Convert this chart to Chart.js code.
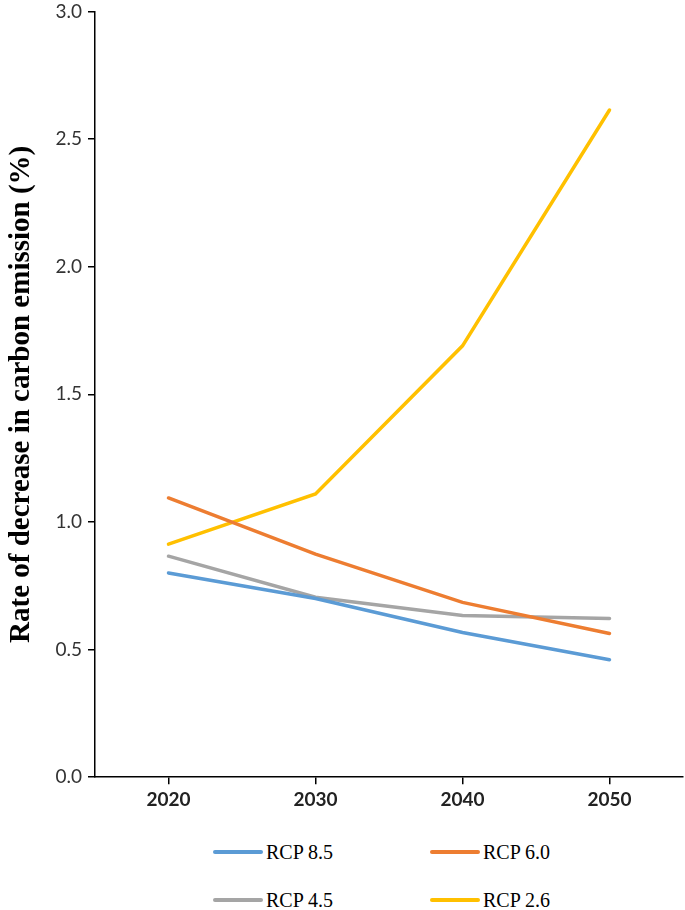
<!DOCTYPE html>
<html>
<head>
<meta charset="utf-8">
<script src="https://cdn.jsdelivr.net/npm/chart.js@4.4.0/dist/chart.umd.min.js"></script>
<style>
    body { margin: 0; background: #fff; }
    #wrap { position: relative; width: 685px; height: 910px; overflow: hidden; }
    #grafico { position: absolute; left: 0; top: -4px; }
    .leg_item { position: absolute; height: 24px; font-family: "Liberation Serif", "Times New Roman", serif; font-size: 20px; color: #000; white-space: nowrap; }
    .leg_linha { position: absolute; left: 0; top: 10px; width: 50px; height: 4px; border-radius: 2px; }
    .leg_texto { position: absolute; left: 53px; top: 0; line-height: 24px; }
</style>
</head>
<body>
<div id="wrap">
    <canvas id="grafico" width="685" height="819"></canvas>
    <div id="legenda"></div>
</div>
<script>

/// DADOS

const anos = ['2020', '2030', '2040', '2050'];

const rcp85 = [0.80, 0.70, 0.567, 0.46];
const rcp60 = [1.094, 0.874, 0.685, 0.563];
const rcp45 = [0.866, 0.705, 0.634, 0.622];
const rcp26 = [0.913, 1.11, 1.69, 2.614];

const series_nomes = ['RCP 8.5', 'RCP 6.0', 'RCP 4.5', 'RCP 2.6'];
const series_cores = ['#5B9BD5', '#ED7D31', '#A5A5A5', '#FFC000'];

const y_ticks = [0, 0.5, 1.0, 1.5, 2.0, 2.5, 3.0];


/// GRÁFICO

const canvas = document.getElementById('grafico');

const series_dados = [rcp85, rcp60, rcp45, rcp26];

const datasets = series_dados.map(function (d, i) {
    return {
        label: series_nomes[i],
        data: d,
        borderColor: series_cores[i],
        backgroundColor: series_cores[i],
        borderWidth: 3.5,
        pointRadius: 0,
        tension: 0,
        borderCapStyle: 'round'
    };
});

const chart = new Chart(canvas, {
    type: 'line',
    data: {
        labels: anos,
        datasets: datasets
    },
    options: {
        responsive: false,
        animation: false,
        layout: {
            padding: { top: 0, right: 2, left: 0, bottom: 0 }
        },
        plugins: {
            legend: { display: false },
            tooltip: { enabled: false }
        },
        scales: {
            x: {
                offset: true,
                grid: {
                    offset: false,
                    drawOnChartArea: false,
                    color: '#000',
                    tickLength: 7,
                    lineWidth: 1.5
                },
                border: { color: '#000', width: 1.5 },
                ticks: {
                    color: '#222',
                    padding: 4,
                    font: { family: 'Lato, "Open Sans", sans-serif', size: 19, weight: 'bold' }
                }
            },
            y: {
                min: 0,
                max: 3,
                afterBuildTicks: function (scale) {
                    scale.ticks = y_ticks.map(function (v) { return { value: v }; });
                },
                afterFit: function (scale) {
                    scale.width = 95;
                },
                grid: {
                    drawOnChartArea: false,
                    color: '#000',
                    tickLength: 7,
                    lineWidth: 1.5
                },
                border: { color: '#000', width: 1.5 },
                ticks: {
                    color: '#333',
                    padding: 6,
                    font: { family: 'Lato, "Open Sans", sans-serif', size: 19, lineHeight: 1 },
                    callback: function (v) { return Number(v).toFixed(1); }
                },
                title: {
                    display: true,
                    text: 'Rate of decrease in carbon emission (%)',
                    color: '#000',
                    padding: { top: 4, bottom: 4 },
                    font: { family: '"Liberation Serif", "Times New Roman", serif', size: 29, weight: 'bold' }
                }
            }
        }
    }
});


/// LEGENDA

const legenda = document.getElementById('legenda');
const leg_pos = [[213, 840], [430, 840], [213, 888], [430, 888]];

chart.data.datasets.forEach(function (ds, i) {
    const item = document.createElement('div');
    item.className = 'leg_item';
    item.style.left = leg_pos[i][0] + 'px';
    item.style.top = leg_pos[i][1] + 'px';
    item.innerHTML = '<span class="leg_linha" style="background:' + ds.borderColor + '"></span>' +
        '<span class="leg_texto">' + ds.label + '</span>';
    legenda.appendChild(item);
});

</script>
</body>
</html>
